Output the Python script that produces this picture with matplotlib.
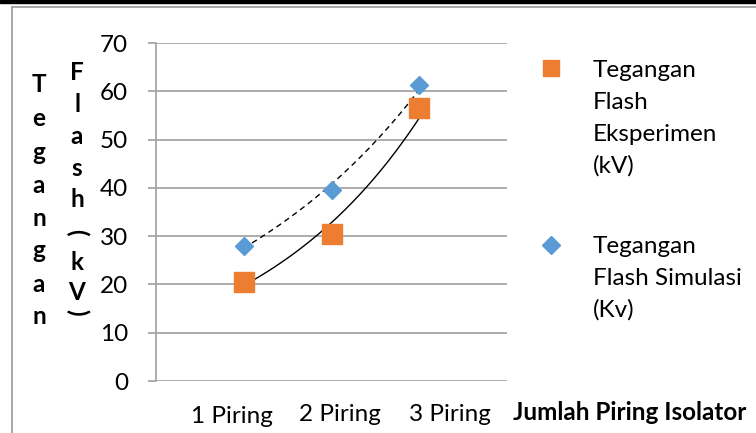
import numpy as np
import matplotlib.pyplot as plt
from matplotlib.lines import Line2D
from matplotlib.patches import Rectangle

plt.rcParams["font.family"] = ["Lato", "DejaVu Sans"]

categories = ["1 Piring", "2 Piring", "3 Piring"]
eksperimen = [20.5, 30.5, 56.5]
simulasi = [28.0, 39.5, 61.3]
label_eksperimen = ["Tegangan", "Flash", "Eksperimen", "(kV)"]
label_simulasi = ["Tegangan", "Flash Simulasi", "(Kv)"]
y_title_1 = "Tegangan"
y_title_2 = "Flash(kV)"
x_title = "Jumlah Piring Isolator"

ORANGE = "#ED7D31"
BLUE = "#5B9BD5"
GRID = "#A6A6A6"
FS = 17.5

W, H = 756, 433
fig = plt.figure(figsize=(W / 100, H / 100), dpi=100)


def px(x, y):
    # pixel from top-left -> figure fraction
    return x / W, 1 - y / H


ax = fig.add_axes([156 / W, 1 - 381 / H, 351 / W, 338 / H])
x = np.arange(1, len(categories) + 1)

# exponential trendlines
xs = np.linspace(1, 3, 100)
b, a = np.polyfit(x, np.log(eksperimen), 1)
ax.plot(xs, np.exp(a + b * xs), color="black", lw=1.0, zorder=3)
b, a = np.polyfit(x, np.log(simulasi), 1)
ax.plot(xs, np.exp(a + b * xs), color="black", lw=1.0, ls=(0, (4, 3)), zorder=3)

ax.plot(x, eksperimen, "s", color=ORANGE, ms=14.5, mec=ORANGE, zorder=4)
ax.plot(x, simulasi, "D", color=BLUE, ms=9.5, mec=BLUE, zorder=5)

ax.set_xlim(0, 4)
ax.set_ylim(0, 70)
ax.set_yticks(range(0, 71, 10))
ax.set_xticks([])
ax.yaxis.grid(True, color=GRID, lw=1.3)
ax.set_axisbelow(True)
for s in ["top", "right", "bottom"]:
    ax.spines[s].set_visible(False)
ax.spines["left"].set_color(GRID)
ax.spines["left"].set_linewidth(1.3)
ax.tick_params(axis="y", length=6, width=1.3, color=GRID, pad=14, labelsize=FS)

# category labels (offset as in the original)
cat_pos = [(232, 423), (340, 421), (450, 421)]
for lab, (cx, cy) in zip(categories, cat_pos):
    fig.text(*px(cx, cy), lab, ha="center", va="baseline", fontsize=FS)
fig.text(*px(746, 420), x_title, ha="right", va="baseline", fontsize=FS,
         fontweight="bold")

# stacked y-axis title
col1_y = [85, 119, 152, 185, 218, 251, 284, 317]
for ch, cy in zip(y_title_1, col1_y):
    fig.text(*px(39, cy), ch, ha="center", va="center", fontsize=FS,
             fontweight="bold")
col2_y = [72, 104, 136, 168, 200, 232, 262, 292, 312]
for ch, cy in zip(y_title_2, col2_y):
    rot = -90 if ch in "()" else 0
    fig.text(*px(77, cy), ch, ha="center", va="center", fontsize=FS,
             fontweight="bold", rotation=rot)

# legend
fig.add_artist(Line2D([551 / W], [1 - 68 / H], marker="s", ms=12, color=ORANGE,
                      mec=ORANGE, transform=fig.transFigure))
fig.add_artist(Line2D([551 / W], [1 - 245 / H], marker="D", ms=9, color=BLUE,
                      mec=BLUE, transform=fig.transFigure))
for i, line in enumerate(label_eksperimen):
    fig.text(*px(593, 77 + 32 * i), line, ha="left", va="baseline", fontsize=FS)
for i, line in enumerate(label_simulasi):
    fig.text(*px(593, 253 + 32 * i), line, ha="left", va="baseline", fontsize=FS)

# frame
fig.add_artist(Rectangle((0, 1 - 2.5 / H), 1, 2.5 / H, color="black",
                         transform=fig.transFigure))
fig.add_artist(Line2D([12 / W, 1], [1 - 7 / H, 1 - 7 / H], color="#A0A0A0", lw=1.3,
                      transform=fig.transFigure))
fig.add_artist(Line2D([12 / W, 12 / W], [0, 1 - 7 / H], color="#A0A0A0", lw=1.3,
                      transform=fig.transFigure))

fig.savefig("out.png", dpi=100)
